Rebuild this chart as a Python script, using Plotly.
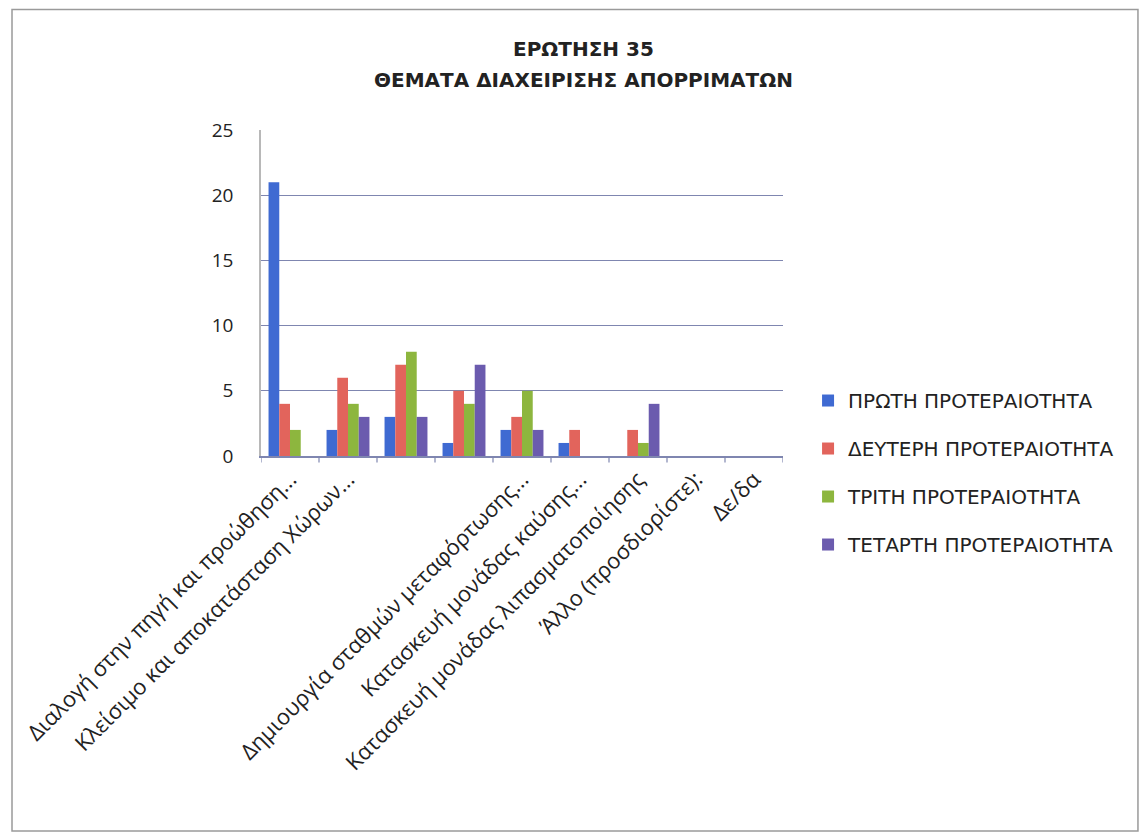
import plotly.graph_objects as go

title_lines = ["ΕΡΩΤΗΣΗ 35", "ΘΕΜΑΤΑ ΔΙΑΧΕΙΡΙΣΗΣ ΑΠΟΡΡΙΜΑΤΩΝ"]

positions = [0, 1, 2, 3, 4, 5, 6, 7, 8]
tick_labels = [
    "Διαλογή στην πηγή και προώθηση...",
    "Κλείσιμο και αποκατάσταση Χώρων...",
    "",
    "",
    "Δημιουργία σταθμών μεταφόρτωσης...",
    "Κατασκευή μονάδας καύσης...",
    "Κατασκευή μονάδας λιπασματοποίησης",
    "Άλλο (προσδιορίστε):",
    "Δε/δα",
]

series_names = [
    "ΠΡΩΤΗ ΠΡΟΤΕΡΑΙΟΤΗΤΑ",
    "ΔΕΥΤΕΡΗ ΠΡΟΤΕΡΑΙΟΤΗΤΑ",
    "ΤΡΙΤΗ ΠΡΟΤΕΡΑΙΟΤΗΤΑ",
    "ΤΕΤΑΡΤΗ ΠΡΟΤΕΡΑΙΟΤΗΤΑ",
]
first = [21, 2, 3, 1, 2, 1, 0, 0, 0]
second = [4, 6, 7, 5, 3, 2, 2, 0, 0]
third = [2, 4, 8, 4, 5, 0, 1, 0, 0]
fourth = [0, 3, 3, 7, 2, 0, 4, 0, 0]

y_ticks = [0, 5, 10, 15, 20, 25]

colors = ["#3F6AD2", "#E2645C", "#8DB63E", "#6B5BAE"]

fig = go.Figure()
for i, (name, vals) in enumerate(zip(series_names, [first, second, third, fourth])):
    fig.add_trace(go.Bar(
        x=positions, y=vals, name=name,
        marker=dict(color=colors[i], line=dict(width=0)),
        legendgroup=f"g{i}",
    ))

font_family = "Open Sans, Noto Sans, sans-serif"
wide_family = "DejaVu Sans, sans-serif"

fig.update_layout(
    width=1148, height=837,
    paper_bgcolor="white", plot_bgcolor="white",
    margin=dict(l=250, r=373, t=122, b=389),
    barmode="group", bargap=0.26, bargroupgap=0,
    legend=dict(
        x=1.048, y=0.23, xanchor="left", yanchor="top",
        font=dict(family=wide_family, size=20, color="#222222"),
        traceorder="grouped", tracegroupgap=19,
        itemwidth=30,
    ),
    xaxis=dict(
        range=[-0.5, 8.5],
        tickmode="array", tickvals=positions, ticktext=tick_labels,
        tickangle=-45,
        tickfont=dict(family=font_family, size=22, color="#222222"),
        showgrid=False, showline=True, linecolor="#7F86B0", linewidth=1.5,
        ticks="", zeroline=False,
    ),
    yaxis=dict(
        range=[0, 25], tickvals=y_ticks,
        tickfont=dict(family=font_family, size=19, color="#222222"),
        showgrid=True, gridcolor="#7F86B0", gridwidth=1.2,
        showline=True, linecolor="#B8B8B8", linewidth=1.5,
        ticks="", zeroline=False, ticklabelstandoff=22,
    ),
    shapes=[
        dict(type="rect", xref="paper", yref="paper", x0=-0.477, x1=1.68, y0=-1.15, y1=1.37,
             line=dict(color="#9A9A9A", width=1.5), fillcolor="rgba(0,0,0,0)"),
    ],
)

title_y = [1.25, 1.152]
for line, yy in zip(title_lines, title_y):
    fig.add_annotation(
        text="<b>" + line + "</b>", xref="paper", yref="paper", x=0.617, y=yy,
        xanchor="center", yanchor="middle", showarrow=False,
        font=dict(family=wide_family, size=20, color="#222222"),
    )

# category boundary tick marks on x axis
for b in range(10):
    fig.add_shape(type="line", xref="x", yref="paper", x0=b - 0.5, x1=b - 0.5, y0=0, y1=-0.02,
                  line=dict(color="#7F86B0", width=1.2))

fig.write_html("out.html")
